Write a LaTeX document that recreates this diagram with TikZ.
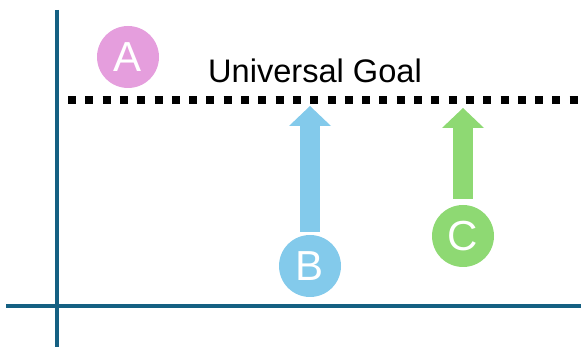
\documentclass[tikz,border=0pt]{standalone}
\usepackage{fontspec}
\setmainfont{Liberation Sans}
\usetikzlibrary{arrows.meta}
\definecolor{axisteal}{RGB}{21,96,130}
\definecolor{pinkA}{RGB}{229,158,221}
\definecolor{blueB}{RGB}{131,202,235}
\definecolor{greenC}{RGB}{142,217,115}

\begin{document}
\begin{tikzpicture}[x=1pt, y=-1pt]
\tikzset{
  axis/.style={draw=axisteal, line width=4pt},
  goal/.style={draw=black, line width=8pt, dash pattern=on 8pt off 9.3pt},
  agent/.style={circle, minimum size=62pt, inner sep=0pt, text=white, font=\fontsize{42}{46}\selectfont},
  push/.style={line width=20pt, -{Triangle[width=42pt, length=20pt, line width=0pt]}}
}
\useasboundingbox (0,0) rectangle (581,347);

% axes
\coordinate (ytop) at (57,10);
\coordinate (ybot) at (57,347);
\coordinate (xleft) at (6,306);
\coordinate (xright) at (581,306);
\draw[axis] (ytop) -- (ybot);
\draw[axis] (xleft) -- (xright);

% goal line
\coordinate (gstart) at (68,100);
\coordinate (gend) at (590,100);
\draw[goal] (gstart) -- (gend);
\node[anchor=base, font=\fontsize{32.6}{38}\selectfont] (label) at (315,83) {Universal Goal};

% agents
\node[agent, fill=pinkA] (A) at (128,57) {A};
\node[agent, fill=blueB] (B) at (310,266) {B};
\node[agent, fill=greenC] (C) at (463,236) {C};

\coordinate (goalB) at (310,106);
\coordinate (goalC) at (463,108);
\draw[push, blueB] ([yshift=3pt]B.north) -- (goalB);
\draw[push, greenC] ([yshift=6pt]C.north) -- (goalC);
\end{tikzpicture}
\end{document}
